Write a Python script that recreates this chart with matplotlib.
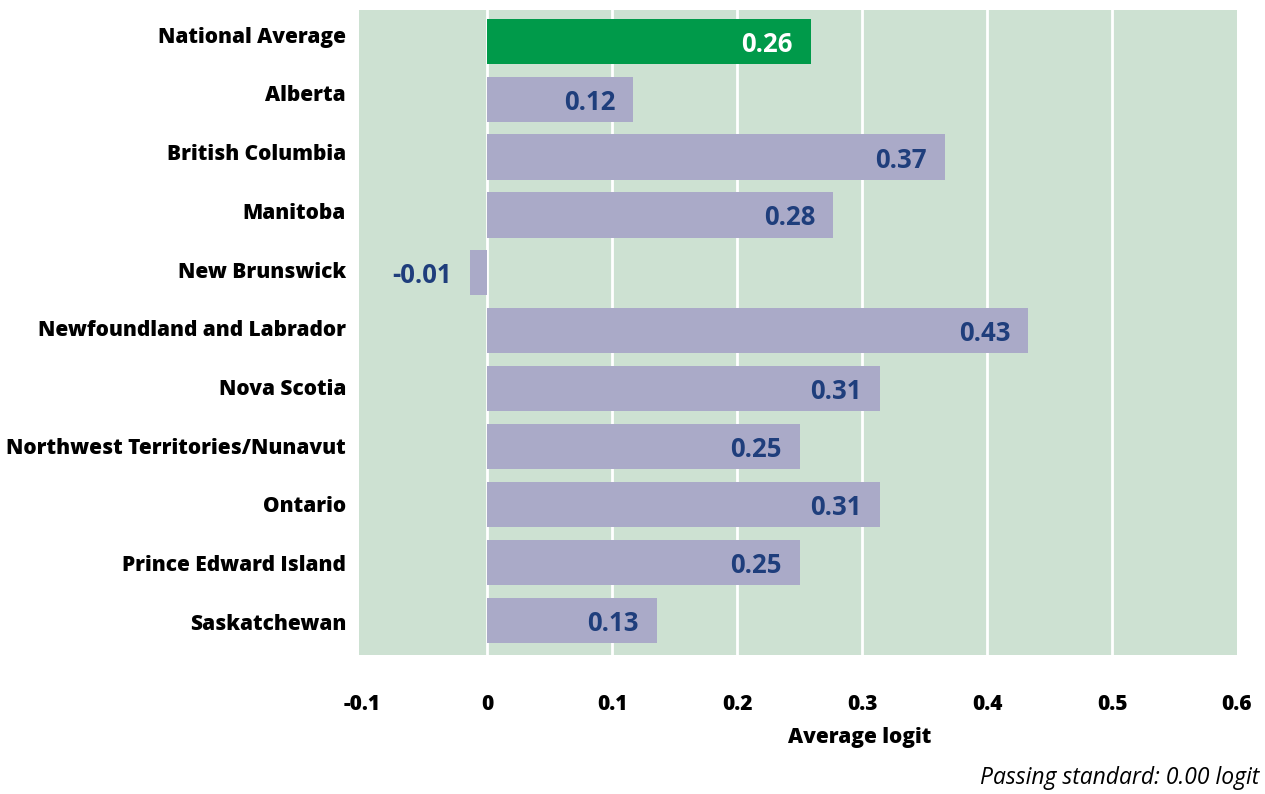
import matplotlib
matplotlib.use("Agg")
import matplotlib.pyplot as plt
import matplotlib.transforms as mtransforms

categories = ["National Average", "Alberta", "British Columbia", "Manitoba",
              "New Brunswick", "Newfoundland and Labrador", "Nova Scotia",
              "Northwest Territories/Nunavut", "Ontario", "Prince Edward Island",
              "Saskatchewan"]
values = [0.259, 0.117, 0.366, 0.277, -0.0136, 0.433, 0.314, 0.250, 0.314, 0.250, 0.136]
value_labels = ["0.26", "0.12", "0.37", "0.28", "-0.01", "0.43", "0.31", "0.25",
                "0.31", "0.25", "0.13"]
xticks = [-0.1, 0, 0.1, 0.2, 0.3, 0.4, 0.5, 0.6]
xtick_labels = ["-0.1", "0", "0.1", "0.2", "0.3", "0.4", "0.5", "0.6"]

FONT = "Open Sans"
plt.rcParams["font.family"] = [FONT, "DejaVu Sans"]

fig = plt.figure(figsize=(12.65, 7.94), dpi=100)
ax = fig.add_axes([359 / 1265, 1 - 655 / 794, (1237 - 359) / 1265, (655 - 10) / 794])
ax.set_facecolor("#CDE1D2")

ypos = list(range(len(categories)))
colors = ["#009A4A"] + ["#AAAAC8"] * (len(categories) - 1)
for t in xticks[1:-1]:
    ax.axvline(t, color="white", linewidth=2, zorder=1)
ax.barh(ypos, values, height=0.78, color=colors, zorder=3)

ax.set_xlim(-0.1025, 0.6)
ax.set_ylim(10.6, -0.54)

for i, (v, lab) in enumerate(zip(values, value_labels)):
    col = "white" if i == 0 else "#1F3E7C"
    off = mtransforms.offset_copy(ax.transData, fig=fig, x=-18, y=0, units="dots")
    ax.text(v, i, lab, transform=off, ha="right", va="center_baseline",
            fontsize=18.5, fontweight="bold", color=col, zorder=4)

ax.set_xticks(xticks)
ax.set_xticklabels(xtick_labels, fontsize=15, fontweight="heavy")
ax.set_yticks(ypos)
ax.set_yticklabels([])
for i, c in enumerate(categories):
    off = mtransforms.offset_copy(ax.get_yaxis_transform(), fig=fig, x=-13,
                                  y=6.5 - 0.8 * i, units="dots")
    ax.text(0, i, c, transform=off, ha="right", va="center_baseline",
            fontsize=15, fontweight="heavy", color="black")
ax.tick_params(axis="both", length=0)
ax.tick_params(axis="x", pad=28)
for s in ax.spines.values():
    s.set_visible(False)

fig.text(860 / 1265, 1 - 738 / 794, "Average logit", ha="center", va="center",
         fontsize=15, fontweight="heavy")
fig.text(1259 / 1265, 1 - 778 / 794, "Passing standard: 0.00 logit", ha="right",
         va="center", fontsize=16.5, fontstyle="italic")

fig.savefig("out.png", dpi=100)
